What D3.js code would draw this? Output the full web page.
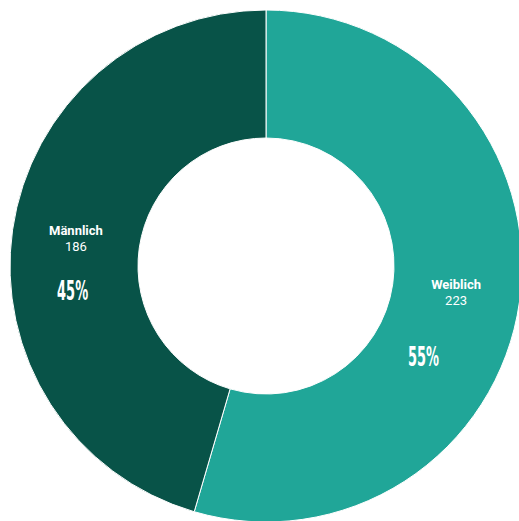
<!DOCTYPE html>
<html>
<head>
<meta charset="utf-8">
<script src="https://cdn.jsdelivr.net/npm/d3@7"></script>
<style>
  html, body { margin: 0; padding: 0; background: #fff; }
  svg { display: block; }
</style>
</head>
<body>
<svg id="chart" width="519" height="521"></svg>
<script>
// Gender split
const categories = ["Weiblich", "Männlich"];
const counts = [223, 186];
const percentLabels = ["55%", "45%"];
const colors = ["#20a698", "#085348"];

const svg = d3.select("#chart");
const cx = 266, cy = 266;
const outerR = 256, innerR = 128;

const data = categories.map((c, i) => ({ name: c, value: counts[i], pct: percentLabels[i], color: colors[i] }));

const pie = d3.pie().sort(null).value(d => d.value);
const arc = d3.arc().innerRadius(innerR).outerRadius(outerR);
const arcs = pie(data);

const g = svg.append("g").attr("transform", `translate(${cx},${cy})`);

g.selectAll("path.slice")
  .data(arcs)
  .join("path")
  .attr("class", "slice")
  .attr("d", arc)
  .attr("fill", d => d.data.color)
  .attr("stroke", "#ffffff")
  .attr("stroke-width", 1);

// Name + count at each slice centroid
const lab = g.selectAll("g.lab")
  .data(arcs)
  .join("g")
  .attr("class", "lab")
  .attr("transform", d => {
    const [x, y] = arc.centroid(d);
    return `translate(${x},${y})`;
  });

lab.append("text")
  .attr("text-anchor", "middle")
  .attr("y", -4)
  .attr("fill", "#ffffff")
  .style("font-family", "Roboto, sans-serif")
  .style("font-weight", "700")
  .style("font-size", "13px")
  .text(d => d.data.name);

lab.append("text")
  .attr("text-anchor", "middle")
  .attr("y", 12)
  .attr("fill", "#ffffff")
  .style("font-family", "Roboto, sans-serif")
  .style("font-weight", "400")
  .style("font-size", "13px")
  .text(d => d.data.value);

// Percent labels, placed along the ring at an angle shifted from the mid-angle
const pctShift = [22, -15.5];
g.selectAll("text.pct")
  .data(arcs)
  .join("text")
  .attr("class", "pct")
  .attr("text-anchor", "middle")
  .attr("fill", "#ffffff")
  .style("font-family", "'Liberation Sans Narrow', 'DejaVu Sans Condensed', sans-serif")
  .style("font-weight", "700")
  .style("font-size", "26px")
  .attr("textLength", 31)
  .attr("lengthAdjust", "spacingAndGlyphs")
  .attr("transform", (d, i) => {
    const a = (d.startAngle + d.endAngle) / 2 + pctShift[i] * Math.PI / 180;
    const r = i === 0 ? 182 : 195;
    return `translate(${r * Math.sin(a)},${-r * Math.cos(a) + 9})`;
  })
  .text(d => d.data.pct);
</script>
</body>
</html>
